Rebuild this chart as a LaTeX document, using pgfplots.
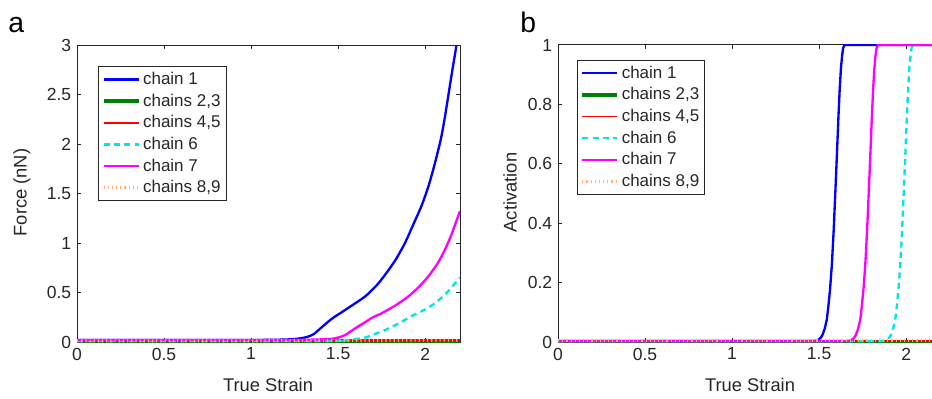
\documentclass[border=0pt]{standalone}
\usepackage{fontspec}
\setmainfont{Liberation Sans}
\usepackage{pgfplots}
\pgfplotsset{compat=1.18}

\definecolor{axgray}{gray}{0.15}
\definecolor{chorange}{rgb}{1,0.68,0.5}
\definecolor{chgreen}{rgb}{0,0.5,0}
\definecolor{chcyan}{rgb}{0,0.9,0.9}
\definecolor{chmag}{rgb}{1,0,1}
\definecolor{chblue}{rgb}{0,0,1}
\definecolor{chred}{rgb}{1,0,0}

\pgfplotsset{
 mystyle/.style={
  scale only axis, width=229.8pt, height=178.2pt,
  axis line style={axgray, line width=0.6pt},
  tick align=inside, major tick length=2.6pt,
  tick style={axgray, line width=0.6pt},
  ticklabel style={font=\fontsize{10.5}{12}\selectfont, text=axgray},
  /pgf/number format/assume math mode=true,
  xmin=0, xmax=2.2, xtick={0,0.5,1,1.5,2},
  legend cell align=left,
  legend style={draw=axgray, line width=0.6pt, font=\fontsize{10.2}{12}\selectfont,
     inner sep=1.8pt, row sep=1.1pt, nodes={inner sep=1.5pt, text=axgray}},
  legend image code/.code={\draw[##1] (0pt,0pt) -- (21pt,0pt);},
 },
 c1/.style={chblue, line width=1.4pt},
 c23/.style={chgreen, line width=2.4pt},
 c45/.style={chred, line width=0.9pt},
 c6/.style={chcyan, line width=1.4pt, dash pattern=on 3.6pt off 2.6pt},
 c7/.style={chmag, line width=1.4pt},
 c89/.style={chorange, line width=1.8pt, dash pattern=on 0.7pt off 1.8pt},
 sm/.style={smooth, tension=0.4},
}

\begin{document}
\begin{tikzpicture}
\useasboundingbox (0,0) rectangle (559.2pt,238.8pt);

% ---------------- panel a ----------------
\begin{axis}[mystyle, at={(46.2pt,33.6pt)}, anchor=south west,
  ymin=0, ymax=3, ytick={0,0.5,1,1.5,2,2.5,3},
  legend style={at={(0.055,0.929)}, anchor=north west}]
\addplot[c1, sm] coordinates {(0,0.02) (0.5,0.02) (1.0,0.02) (1.2,0.025) (1.274,0.035) (1.32,0.05) (1.36,0.08) (1.40,0.14) (1.446,0.21) (1.48,0.255) (1.52,0.30) (1.58,0.37) (1.655,0.46) (1.72,0.57) (1.77,0.68) (1.83,0.83) (1.884,1.0) (1.93,1.18) (1.98,1.38) (2.02,1.58) (2.055,1.80) (2.09,2.05) (2.113,2.27) (2.15,2.68) (2.18,3.0) (2.2,3.2)};
\addlegendentry{chain 1}
\addplot[c23] coordinates {(0,0.005) (1.0,0.006) (2.2,0.01)};
\addlegendentry{chains 2,3}
\addplot[c45] coordinates {(0,0.01) (1.0,0.01) (2.2,0.015)};
\addlegendentry{chains 4,5}
\addplot[c6, sm] coordinates {(0,0.01) (1.4,0.01) (1.5,0.015) (1.58,0.025) (1.655,0.045) (1.71,0.08) (1.77,0.12) (1.85,0.19) (1.92,0.26) (1.99,0.32) (2.055,0.39) (2.12,0.49) (2.185,0.62) (2.2,0.65)};
\addlegendentry{chain 6}
\addplot[c7, sm] coordinates {(0,0.02) (1.0,0.02) (1.3,0.022) (1.45,0.03) (1.50,0.045) (1.54,0.07) (1.60,0.14) (1.655,0.20) (1.70,0.25) (1.75,0.29) (1.83,0.37) (1.903,0.46) (1.96,0.55) (2.017,0.66) (2.07,0.79) (2.113,0.93) (2.15,1.08) (2.185,1.25) (2.2,1.32)};
\addlegendentry{chain 7}
\addplot[c89] coordinates {(0,0.012) (1.0,0.012) (2.2,0.02)};
\addlegendentry{chains 8,9}
\end{axis}

% ---------------- panel b ----------------
\begin{axis}[mystyle, at={(334.8pt,33.6pt)}, anchor=south west,
  ymin=0, ymax=1, ytick={0,0.2,0.4,0.6,0.8,1},
  legend style={at={(0.049,0.95)}, anchor=north west}]
\addplot[c1] coordinates {(0,0.003) (1.45,0.003) (1.48,0.004) (1.496,0.008) (1.51,0.015) (1.52,0.025) (1.532,0.045) (1.544,0.075) (1.553,0.12) (1.563,0.18) (1.573,0.26) (1.583,0.37) (1.592,0.49) (1.602,0.63) (1.611,0.76) (1.618,0.85) (1.625,0.92) (1.632,0.965) (1.638,0.99) (1.646,1) (2.2,1)};
\addlegendentry{chain 1}
\addplot[c23] coordinates {(0,0.0) (2.2,0.0)};
\addlegendentry{chains 2,3}
\addplot[c45] coordinates {(0,0.003) (2.2,0.003)};
\addlegendentry{chains 4,5}
\addplot[c6] coordinates {(0,0.003) (1.85,0.003) (1.873,0.004) (1.889,0.008) (1.903,0.015) (1.913,0.025) (1.925,0.045) (1.937,0.075) (1.946,0.12) (1.956,0.18) (1.966,0.26) (1.976,0.37) (1.985,0.49) (1.995,0.63) (2.004,0.76) (2.011,0.85) (2.018,0.92) (2.025,0.965) (2.031,0.99) (2.039,1) (2.2,1)};
\addlegendentry{chain 6}
\addplot[c7] coordinates {(0,0.003) (1.64,0.003) (1.672,0.004) (1.688,0.008) (1.702,0.015) (1.712,0.025) (1.724,0.045) (1.736,0.075) (1.745,0.12) (1.755,0.18) (1.765,0.26) (1.775,0.37) (1.784,0.49) (1.794,0.63) (1.803,0.76) (1.810,0.85) (1.817,0.92) (1.824,0.965) (1.830,0.99) (1.838,1) (2.2,1)};
\addlegendentry{chain 7}
\addplot[c89] coordinates {(0,0.005) (2.2,0.005)};
\addlegendentry{chains 8,9}
\end{axis}

% panel letters and axis labels
\node[anchor=base west, font=\fontsize{17}{20}\selectfont, inner sep=0pt] at (4.8pt,219pt) {a};
\node[anchor=base west, font=\fontsize{17}{20}\selectfont, inner sep=0pt] at (312pt,219pt) {b};
\node[rotate=90, font=\fontsize{11}{13}\selectfont, text=axgray] at (13.2pt,123.3pt) {Force (nN)};
\node[rotate=90, font=\fontsize{11}{13}\selectfont, text=axgray] at (306pt,123.3pt) {Activation};
\node[font=\fontsize{11}{13}\selectfont, text=axgray] at (160.8pt,7.8pt) {True Strain};
\node[font=\fontsize{11}{13}\selectfont, text=axgray] at (450pt,7.8pt) {True Strain};
\end{tikzpicture}
\end{document}
